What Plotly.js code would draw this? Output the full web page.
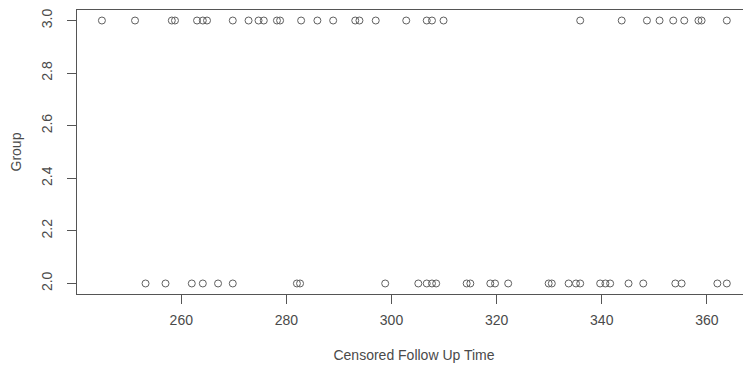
<!DOCTYPE html>
<html>
<head>
<meta charset="utf-8">
<script src="https://cdn.plot.ly/plotly-3.0.1.min.js"></script>
<style>
html,body{margin:0;padding:0;overflow:hidden;background:#fff;}
#chart{width:756px;height:365px;}
</style>
</head>
<body>
<div id="chart"></div>
<script>
// Censored follow-up times, Group 3
var timesGroup3 = [244.9, 251.2, 258.2, 258.8, 263.0, 264.1, 264.9, 269.8, 272.8, 274.7, 275.7, 278.2, 278.8,
  282.8, 285.9, 288.9, 293.1, 293.9, 297.0, 302.8, 306.7, 307.7, 309.9, 335.9, 343.8, 348.6, 351.0, 353.6,
  355.7, 358.4, 359.0, 363.8];
// Censored follow-up times, Group 2
var timesGroup2 = [253.2, 257.0, 262.0, 264.1, 267.0, 269.8, 282.0, 282.6, 298.8, 305.1, 306.7, 307.7, 308.5,
  314.3, 315.0, 318.8, 319.7, 322.2, 329.9, 330.5, 333.7, 335.1, 335.9, 339.7, 340.7, 341.6, 345.1, 347.9,
  354.0, 355.2, 362.0, 363.8];
var groupValues = [3, 2];
var xTicks = [260, 280, 300, 320, 340, 360];
var yTicks = [2.0, 2.2, 2.4, 2.6, 2.8, 3.0];
var yTickText = ["2.0", "2.2", "2.4", "2.6", "2.8", "3.0"];

var xs = timesGroup3.concat(timesGroup2);
var ys = timesGroup3.map(function(){return groupValues[0];}).concat(timesGroup2.map(function(){return groupValues[1];}));

var textColor = '#4a4a4a';
var lineColor = '#555';

var trace = {
  x: xs, y: ys, type: 'scatter', mode: 'markers',
  marker: {symbol: 'circle-open', size: 7, color: '#606060', line: {width: 1, color: '#606060'}},
  hoverinfo: 'skip'
};

var layout = {
  width: 756, height: 365,
  margin: {l: 77, r: 5, t: 10, b: 71},
  paper_bgcolor: '#fff', plot_bgcolor: '#fff',
  showlegend: false,
  font: {family: 'Liberation Sans, Arial, sans-serif', size: 14, color: textColor},
  xaxis: {
    range: [240.16, 368.4],
    tickmode: 'array', tickvals: xTicks, ticktext: xTicks.map(String),
    ticks: 'outside', ticklen: 9, tickwidth: 1, tickcolor: lineColor,
    ticklabelstandoff: 4,
    showgrid: false, zeroline: false,
    showline: true, linecolor: lineColor, linewidth: 1, mirror: true,
    tickfont: {size: 14, color: textColor},
    title: {text: 'Censored Follow Up Time', font: {size: 14, color: textColor}, standoff: 23}
  },
  yaxis: {
    range: [1.96, 3.04],
    tickmode: 'array', tickvals: yTicks, ticktext: yTickText,
    ticks: 'outside', ticklen: 9, tickwidth: 1, tickcolor: lineColor,
    tickangle: -90,
    ticklabelstandoff: 9,
    showgrid: false, zeroline: false,
    showline: true, linecolor: lineColor, linewidth: 1, mirror: true,
    tickfont: {size: 14, color: textColor},
    title: {text: 'Group', font: {size: 14, color: textColor}, standoff: 14}
  }
};

Plotly.newPlot('chart', [trace], layout, {staticPlot: true, displayModeBar: false});
</script>
</body>
</html>
